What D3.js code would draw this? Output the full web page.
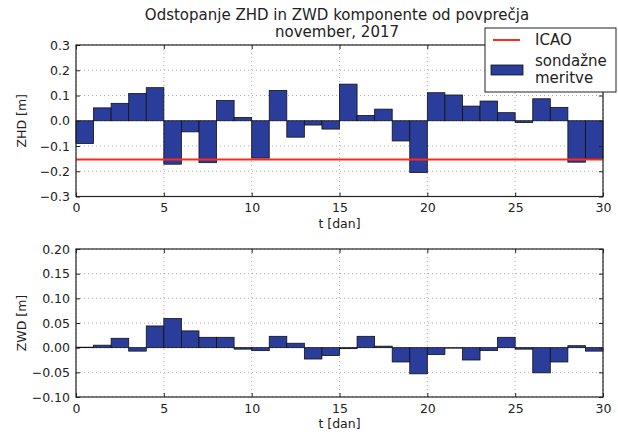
<!DOCTYPE html>
<html><head><meta charset="utf-8">
<script src="https://cdn.jsdelivr.net/npm/d3@7"></script>
<style>body{margin:0;background:#fff}svg{display:block}text{font-family:"DejaVu Sans",sans-serif;fill:#222}</style>
</head><body><svg id="c" width="618" height="445"></svg>
<script>
const days = d3.range(0, 30);
const zhd = [-0.090,0.051,0.069,0.108,0.131,-0.172,-0.044,-0.166,0.080,0.013,-0.148,0.120,-0.065,-0.017,-0.033,0.145,0.021,0.046,-0.080,-0.205,0.111,0.102,0.058,0.078,0.032,-0.007,0.087,0.053,-0.164,-0.149];
const zwd = [0.001,0.005,0.019,-0.007,0.044,0.059,0.034,0.021,0.021,-0.003,-0.006,0.023,0.009,-0.023,-0.016,-0.002,0.023,0.003,-0.029,-0.053,-0.014,-0.001,-0.025,-0.006,0.021,-0.003,-0.051,-0.029,0.004,-0.007];
const icao = -0.153;
const xTicks = [0,5,10,15,20,25,30];
const zhdTicks = [0.3,0.2,0.1,0.0,-0.1,-0.2,-0.3];
const zwdTicks = [0.20,0.15,0.10,0.05,0.00,-0.05,-0.10];
const titleLines = ["Odstopanje ZHD in ZWD komponente od povprečja","november, 2017"];
const legendLabels = ["ICAO", ["sondažne","meritve"]];

const svg = d3.select("#c");
const L = 76, R = 603;
const barColor = "#2b3d9b";
const tickFont = "12.5px";

function panel(top, bottom, data, domain, ticks, fmt, ylab, withIcao) {
  const x = d3.scaleLinear().domain([0,30]).range([L,R]);
  const y = d3.scaleLinear().domain(domain).range([bottom, top]);
  const g = svg.append("g");
  g.selectAll(".gx").data(xTicks).enter().append("line")
    .attr("x1",d=>x(d)).attr("x2",d=>x(d)).attr("y1",top).attr("y2",bottom)
    .attr("stroke","#999").attr("stroke-width",0.8).attr("stroke-dasharray","1,3");
  g.selectAll(".gy").data(ticks).enter().append("line")
    .attr("x1",L).attr("x2",R).attr("y1",d=>y(d)).attr("y2",d=>y(d))
    .attr("stroke","#999").attr("stroke-width",0.8).attr("stroke-dasharray","1,3");
  g.selectAll(".b").data(data).enter().append("rect")
    .attr("x",(d,i)=>x(days[i])).attr("width",(d,i)=>x(days[i]+1)-x(days[i]))
    .attr("y",d=>Math.min(y(d),y(0))).attr("height",d=>Math.abs(y(d)-y(0)))
    .attr("fill",barColor).attr("stroke","#111").attr("stroke-width",0.8);
  if (withIcao) {
    g.append("line").attr("x1",L).attr("x2",R).attr("y1",y(icao)).attr("y2",y(icao))
      .attr("stroke","#ff2a1a").attr("stroke-width",2);
  }
  const ax = d3.axisBottom(x).tickValues(xTicks).tickSize(-4).tickPadding(7).tickFormat(d3.format("d"));
  const ay = d3.axisLeft(y).tickValues(ticks).tickSize(-4).tickPadding(6).tickFormat(d=>fmt(d).replace("-","\u2212"));
  const axT = d3.axisTop(x).tickValues(xTicks).tickSize(-4).tickFormat("");
  const ayR = d3.axisRight(y).tickValues(ticks).tickSize(-4).tickFormat("");
  [[ax,`translate(0,${bottom})`],[ay,`translate(${L},0)`],[axT,`translate(0,${top})`],[ayR,`translate(${R},0)`]].forEach(([a,t])=>{
    const gg = g.append("g").attr("transform",t).call(a);
    gg.select(".domain").remove();
    gg.selectAll("line").attr("stroke","#222");
    gg.selectAll("text").style("font-family","DejaVu Sans, sans-serif").style("font-size",tickFont).attr("fill","#222");
  });
  g.append("rect").attr("x",L).attr("y",top).attr("width",R-L).attr("height",bottom-top)
    .attr("fill","none").attr("stroke","#222").attr("stroke-width",1.2);
  g.append("text").attr("x",x(15)).attr("y",bottom+31).attr("text-anchor","middle")
    .style("font-size",tickFont).text("t [dan]");
  g.append("text").attr("transform",`translate(26,${(top+bottom)/2}) rotate(-90)`)
    .attr("text-anchor","middle").style("font-size",tickFont).text(ylab);
}

panel(45, 196.5, zhd, [-0.3,0.3], zhdTicks, d3.format(".1f"), "ZHD [m]", true);
panel(249, 397, zwd, [-0.10,0.20], zwdTicks, d3.format(".2f"), "ZWD [m]", false);

svg.append("text").attr("x",337).attr("y",20).attr("text-anchor","middle").style("font-size","15px").text(titleLines[0]);
svg.append("text").attr("x",337).attr("y",37).attr("text-anchor","middle").style("font-size","15px").text(titleLines[1]);

const lg = svg.append("g");
lg.append("rect").attr("x",485).attr("y",28).attr("width",131).attr("height",64)
  .attr("fill","#fff").attr("stroke","#222").attr("stroke-width",1);
lg.append("line").attr("x1",493).attr("x2",520).attr("y1",40).attr("y2",40).attr("stroke","#ff2a1a").attr("stroke-width",2);
lg.append("text").attr("x",535).attr("y",45).style("font-size","15px").text(legendLabels[0]);
lg.append("rect").attr("x",491).attr("y",65).attr("width",32).attr("height",10).attr("fill",barColor).attr("stroke","#111").attr("stroke-width",0.8);
lg.append("text").attr("x",535).attr("y",66).style("font-size","15px").text(legendLabels[1][0]);
lg.append("text").attr("x",535).attr("y",83).style("font-size","15px").text(legendLabels[1][1]);
</script></body></html>
